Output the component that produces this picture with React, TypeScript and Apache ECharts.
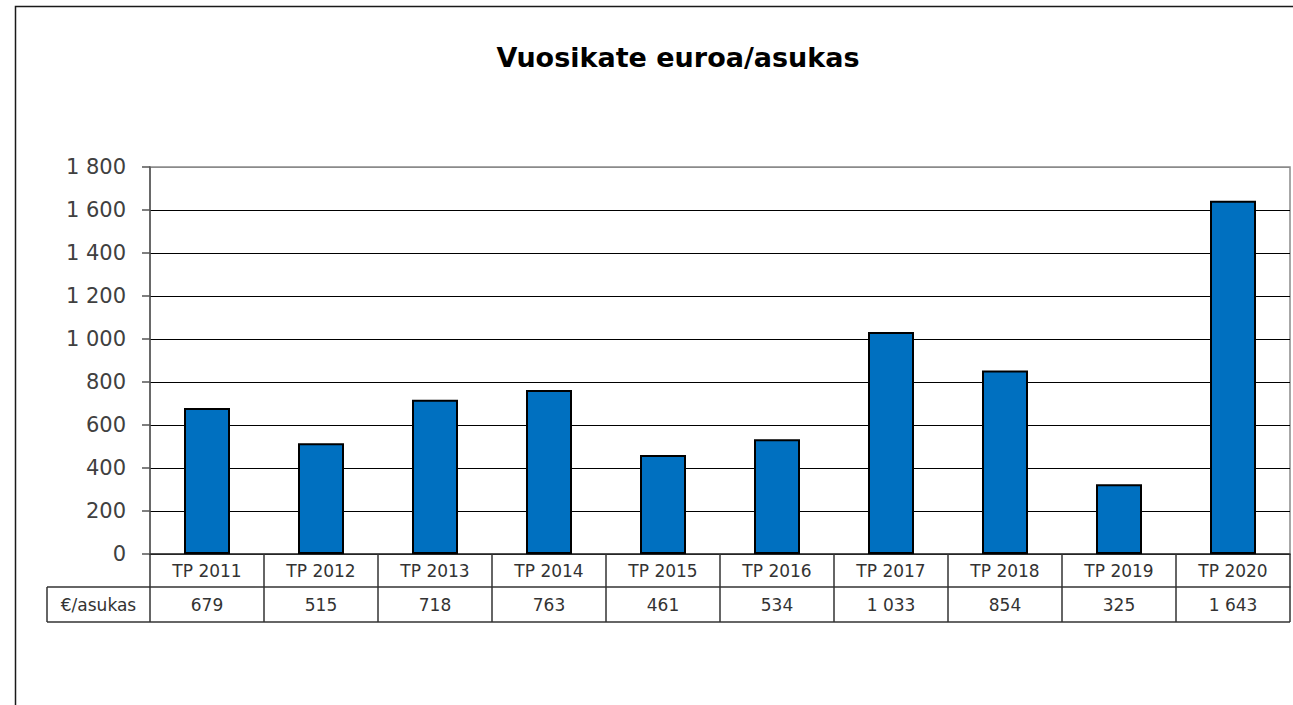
import React, { useEffect, useRef } from "react";
import * as echarts from "echarts";

const categories = ["TP 2011", "TP 2012", "TP 2013", "TP 2014", "TP 2015", "TP 2016", "TP 2017", "TP 2018", "TP 2019", "TP 2020"];
const values = [679, 515, 718, 763, 461, 534, 1033, 854, 325, 1643];
const rowLabel = "€/asukas";
const titleText = "Vuosikate euroa/asukas";

const FONT = "DejaVu Sans";

function fmt(n: number): string {
  if (Math.abs(n) >= 1000) {
    const th = Math.floor(n / 1000);
    const rest = String(n % 1000).padStart(3, "0");
    return `${th} ${rest}`;
  }
  return String(n);
}

export default function App() {
  const ref = useRef<HTMLDivElement>(null);
  useEffect(() => {
    if (!ref.current) return;
    const chart = echarts.init(ref.current, undefined, { renderer: "svg" });
    const gridLeft = 150;
    const gridTop = 167;
    const gridRight = 1290;
    const gridBottom = 554;
    const row1 = 33;
    const row2 = 35;
    const splitColors = Array.from({ length: 10 }, (_, i) => (i === 9 ? "#8a8a8a" : "#000"));
    chart.setOption({
      animation: false,
      backgroundColor: "#fff",
      title: {
        text: titleText,
        left: 673,
        top: 39,
        textAlign: "center",
        textStyle: { fontFamily: FONT, fontSize: 27, fontWeight: "bold", color: "#000" },
      },
      grid: {
        left: gridLeft,
        top: gridTop,
        right: 1293 - gridRight,
        bottom: 705 - gridBottom,
        show: true,
        borderColor: "#8a8a8a",
        borderWidth: 1.5,
        containLabel: false,
      },
      xAxis: [
        {
          type: "category",
          data: categories,
          position: "bottom",
          axisLine: { show: true, lineStyle: { color: "#333", width: 1.5 } },
          axisTick: { show: true, length: row1, lineStyle: { color: "#333", width: 1.5 } },
          axisLabel: { show: true, margin: 8, fontFamily: FONT, fontSize: 17, color: "#333" },
          splitLine: { show: false },
        },
        {
          type: "category",
          data: categories,
          position: "bottom",
          offset: row1,
          axisLine: { show: true, lineStyle: { color: "#333", width: 1.5 } },
          axisTick: { show: true, length: row2, lineStyle: { color: "#333", width: 1.5 } },
          axisLabel: {
            show: true,
            margin: 9,
            fontFamily: FONT,
            fontSize: 17,
            color: "#333",
            formatter: (_v: string, idx: number) => fmt(values[idx]),
          },
          splitLine: { show: false },
        },
      ],
      yAxis: {
        type: "value",
        min: 0,
        max: 1800,
        interval: 200,
        axisLine: { show: true, lineStyle: { color: "#555", width: 1.5 } },
        axisTick: { show: true, length: 8, lineStyle: { color: "#555", width: 1.5 } },
        axisLabel: { margin: 24, fontFamily: FONT, fontSize: 21, color: "#404040", formatter: (v: number) => fmt(v) },
        splitLine: { show: true, lineStyle: { color: splitColors, width: 1 } },
      },
      series: [
        {
          type: "bar",
          data: values,
          xAxisIndex: 0,
          barWidth: 46,
          itemStyle: { color: "#0070C0", borderColor: "#000", borderWidth: 2 },
        },
      ],
      graphic: [
        {
          type: "rect",
          shape: { x: 15.5, y: 6.5, width: 1400, height: 800 },
          style: { fill: "none", stroke: "#1a1a1a", lineWidth: 1.5 },
          silent: true,
        },
        {
          type: "line",
          shape: { x1: 47, y1: gridBottom + row1 + row2, x2: gridRight, y2: gridBottom + row1 + row2 },
          style: { stroke: "#333", lineWidth: 1.5 },
        },
        {
          type: "line",
          shape: { x1: 47, y1: gridBottom + row1, x2: gridLeft, y2: gridBottom + row1 },
          style: { stroke: "#333", lineWidth: 1.5 },
        },
        {
          type: "line",
          shape: { x1: 47, y1: gridBottom + row1, x2: 47, y2: gridBottom + row1 + row2 },
          style: { stroke: "#333", lineWidth: 1.5 },
        },
        {
          type: "text",
          x: (47 + gridLeft) / 2,
          y: gridBottom + row1 + row2 / 2,
          style: {
            text: rowLabel,
            fontFamily: FONT,
            fontSize: 17,
            fill: "#333",
            align: "center",
            verticalAlign: "middle",
          },
        },
      ],
    });
    return () => chart.dispose();
  }, []);
  return <div ref={ref} style={{ position: "fixed", left: 0, top: 0, width: 1293, height: 705 }} />;
}
